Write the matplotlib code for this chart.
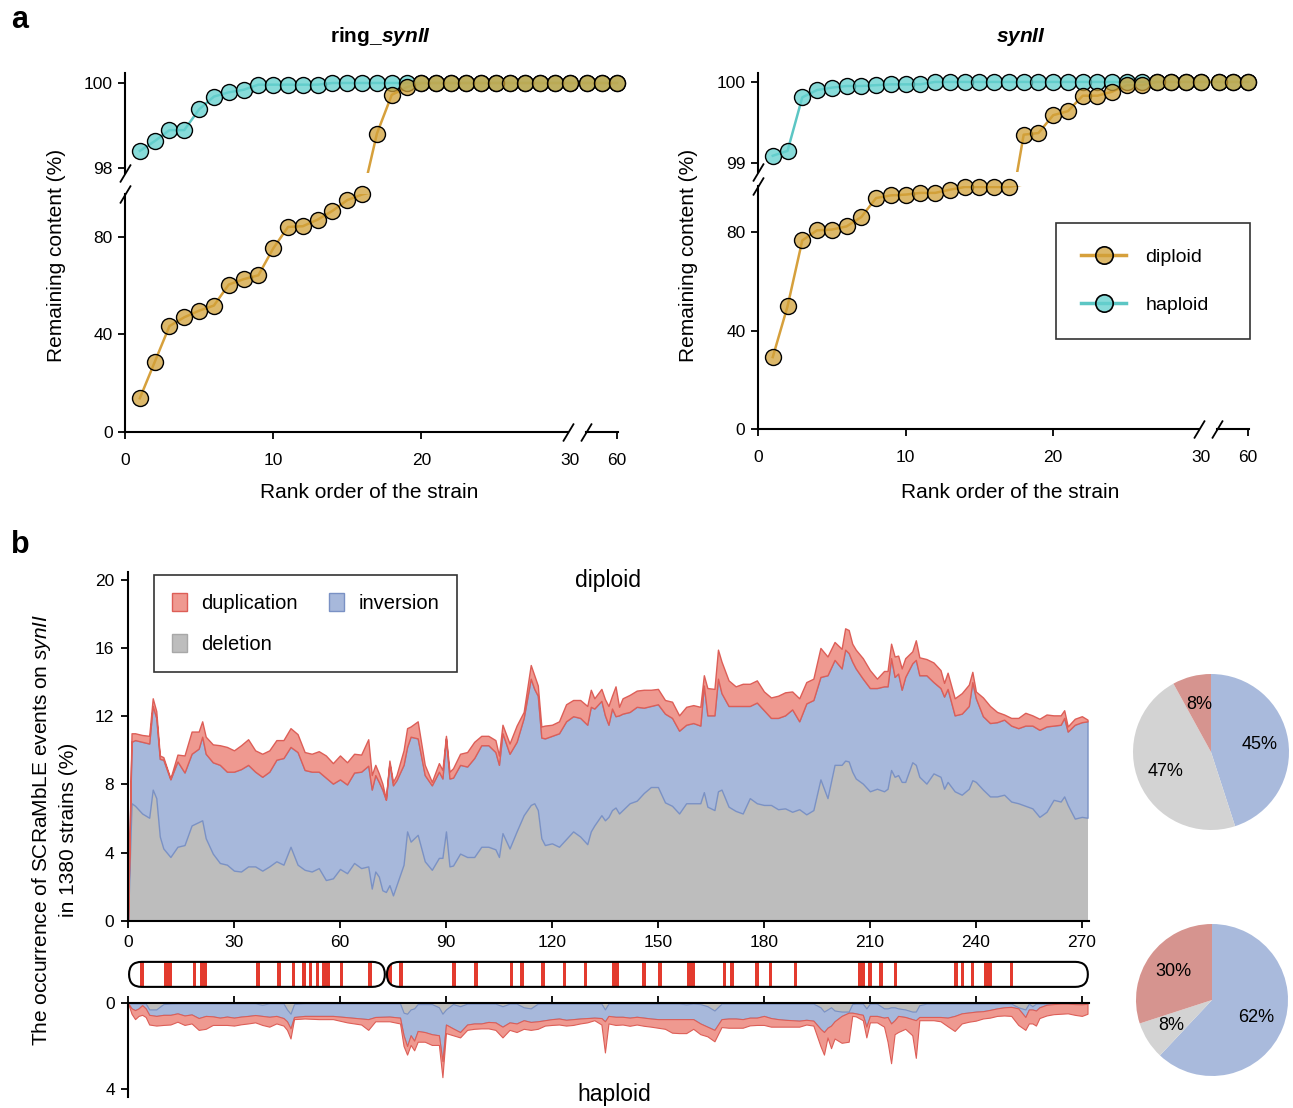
import numpy as np
import matplotlib.pyplot as plt
from matplotlib.patches import FancyBboxPatch, Rectangle, Patch
from matplotlib.lines import Line2D

plt.rcParams['font.family'] = ['Liberation Sans', 'DejaVu Sans']
plt.rcParams['mathtext.fontset'] = 'custom'
plt.rcParams['mathtext.rm'] = 'Liberation Sans'
plt.rcParams['mathtext.it'] = 'Liberation Sans:italic'
plt.rcParams['mathtext.bf'] = 'Liberation Sans:bold:italic'

# ---------------- panel a data (rank order of strains) ----------------
rank = [1, 2, 3, 4, 5, 6, 7, 8, 9, 10, 11, 12, 13, 14, 15, 16, 17, 18, 19, 20,
        21, 22, 23, 24, 25, 26, 27, 28, 29, 30, 58, 59, 60]

ring_diploid = [13.8, 28.6, 43.4, 47.0, 49.7, 51.8, 60.4, 62.6, 64.2, 75.2, 84.0,
                84.3, 87.0, 90.6, 95.0, 97.3, 98.81, 99.72, 99.90, 100, 100, 100,
                100, 100, 100, 100, 100, 100, 100, 100, 100, 100, 100]
ring_haploid = [98.40, 98.63, 98.89, 98.89, 99.38, 99.68, 99.78, 99.84, 99.96, 99.96,
                99.96, 99.96, 99.96, 100, 100, 100, 100, 100, 100, 100, 100, 100,
                100, 100, 100, 100, 100, 100, 100, 100, 100, 100, 100]
syn_diploid = [29.2, 49.8, 76.6, 80.7, 81.0, 82.3, 86.1, 93.8, 94.9, 95.2, 95.9,
               95.9, 97.2, 98.3, 98.3, 98.3, 98.3, 99.35, 99.37, 99.59, 99.64, 99.83,
               99.83, 99.88, 99.96, 99.96, 100, 100, 100, 100, 100, 100, 100]
syn_haploid = [99.09, 99.15, 99.81, 99.90, 99.93, 99.95, 99.95, 99.96, 99.97, 99.97,
               99.97, 100, 100, 100, 100, 100, 100, 100, 100, 100, 100, 100, 100,
               100, 100, 100, 100, 100, 100, 100, 100, 100, 100]

# ---------------- panel b data (stack boundaries, % of 1380 strains) ----------------
dip_pos = [0, 1, 2, 4, 6, 7, 8, 9, 10, 12,
           14, 16, 18, 20, 21, 22, 24, 26, 28, 30,
           32, 34, 36, 38, 40, 42, 44, 46, 48, 50,
           52, 54, 56, 58, 60, 62, 64, 66, 68, 69,
           70, 71, 72, 73, 74, 75, 76, 78, 79, 80,
           82, 84, 86, 88, 89, 90, 91, 92, 94, 96,
           98, 100, 102, 104, 105, 106, 108, 110, 112, 114,
           115, 116, 117, 118, 120, 122, 124, 126, 128, 130,
           131, 132, 134, 135, 136, 137, 138, 139, 140, 142,
           144, 146, 148, 150, 152, 154, 156, 158, 160, 162,
           163, 164, 166, 167, 168, 170, 172, 174, 176, 178,
           180, 182, 184, 186, 188, 190, 192, 194, 196, 198,
           200, 202, 203, 204, 205, 206, 208, 210, 212, 214,
           215, 216, 217, 218, 219, 220, 222, 223, 224, 226,
           228, 230, 231, 232, 234, 236, 238, 239, 240, 242,
           244, 246, 248, 250, 252, 254, 256, 258, 260, 262,
           264, 265, 266, 268, 270, 271.6]
# top of deletion
dip_del = [0, 6.9, 6.75, 6.3, 6.05, 7.7, 7.2, 4.95, 4.25, 3.75,
           4.35, 4.45, 5.6, 5.8, 5.9, 4.85, 3.95, 3.4, 3.3, 2.95,
           2.9, 3.2, 3.2, 2.95, 3.2, 3.5, 3.3, 4.35, 3.3, 3.0,
           2.9, 3.1, 2.4, 2.5, 3.05, 2.8, 3.4, 3.1, 3.2, 1.9,
           2.9, 2.6, 1.8, 1.7, 2.1, 1.5, 2.1, 3.3, 5.25, 4.65,
           5.05, 3.5, 3.0, 3.7, 3.7, 5.25, 3.2, 3.25, 3.95, 3.75,
           3.75, 4.35, 4.35, 4.2, 3.75, 5.15, 4.25, 5.25, 6.2, 6.8,
           6.9, 6.5, 4.85, 4.45, 4.55, 4.35, 4.8, 5.25, 4.95, 4.5,
           5.25, 5.6, 6.2, 5.9, 6.1, 6.5, 6.65, 6.3, 6.5, 6.9,
           7.05, 7.5, 7.85, 7.85, 6.95, 6.75, 6.3, 6.9, 6.9, 6.9,
           7.55, 6.7, 6.5, 7.6, 7.7, 6.7, 6.45, 6.3, 7.2, 6.9,
           6.8, 6.8, 6.55, 6.6, 6.4, 6.55, 6.25, 6.5, 8.3, 7.2,
           9.15, 9.15, 9.4, 9.35, 8.75, 8.35, 8.05, 7.6, 7.75, 7.6,
           7.75, 8.85, 8.45, 8.55, 8.15, 8.15, 9.3, 9.15, 8.45, 8.05,
           8.65, 8.45, 7.75, 8.15, 7.6, 7.4, 7.75, 8.25, 8.15, 7.7,
           7.3, 7.3, 7.4, 7.0, 6.9, 6.75, 6.6, 6.1, 6.4, 7.1,
           7.0, 7.3, 6.8, 6.0, 6.1, 6.05]
# top of deletion + inversion
dip_inv = [0, 10.5, 10.6, 10.5, 10.4, 12.6, 11.9, 9.5, 9.45, 8.3,
           9.35, 8.7, 9.8, 10.1, 10.8, 9.8, 9.3, 9.15, 8.75, 8.75,
           8.9, 9.15, 8.75, 8.45, 8.75, 9.45, 9.55, 10.2, 9.9, 8.85,
           8.75, 8.75, 8.4, 8.05, 8.3, 8.0, 8.7, 8.75, 9.1, 7.7,
           8.55, 8.15, 7.7, 7.1, 9.25, 7.95, 8.25, 9.15, 10.2, 10.8,
           10.7, 8.55, 7.95, 8.75, 8.35, 10.7, 8.35, 8.4, 9.15, 9.05,
           9.55, 10.3, 10.3, 9.9, 9.15, 11.0, 9.8, 10.5, 11.9, 14.2,
           13.6, 13.2, 10.75, 10.7, 10.85, 11.0, 11.7, 12.0, 11.9, 11.5,
           12.55, 12.45, 12.9, 12.05, 11.5, 12.45, 12.0, 12.05, 12.15, 12.25,
           12.55, 12.5, 12.6, 12.7, 12.15, 11.9, 11.15, 11.5, 11.6, 11.45,
           13.8, 12.05, 12.05, 14.2, 13.35, 12.6, 12.6, 12.6, 12.6, 12.8,
           12.35, 11.9, 11.9, 12.05, 12.4, 11.7, 12.75, 12.95, 14.3, 14.4,
           15.3, 14.8, 15.9, 15.7, 15.2, 14.8, 14.2, 13.65, 13.65, 13.75,
           13.75, 15.4, 14.3, 14.5, 13.55, 14.3, 15.1, 15.3, 14.4, 14.4,
           14.0, 13.65, 13.15, 13.6, 12.05, 12.15, 12.6, 14.0, 13.05, 12.0,
           11.6, 11.65, 11.8, 11.45, 11.3, 11.45, 11.45, 11.2, 11.4, 11.45,
           11.5, 11.9, 11.1, 11.5, 11.65, 11.7]
# top of deletion + inversion + duplication
dip_tot = [0, 11.0, 11.0, 10.9, 10.85, 13.05, 12.3, 9.7, 9.6, 8.35,
           9.75, 9.7, 11.1, 11.1, 11.7, 10.8, 10.35, 10.3, 10.2, 10.0,
           10.3, 10.65, 10.0, 9.8, 10.0, 10.6, 10.6, 11.3, 10.95, 9.9,
           9.8, 9.95, 9.7, 9.25, 9.7, 9.3, 9.8, 9.75, 10.65, 8.55,
           9.15, 8.65, 8.05, 7.15, 9.4, 8.15, 8.55, 10.0, 11.3, 11.4,
           11.7, 9.15, 8.15, 9.25, 8.85, 10.85, 8.75, 8.95, 9.8, 9.9,
           10.5, 10.85, 10.85, 10.6, 9.7, 11.5, 10.4, 11.45, 12.25, 15.0,
           14.4, 13.8, 11.4, 11.45, 11.5, 11.7, 12.7, 12.95, 12.95, 12.6,
           13.55, 13.05, 13.6, 13.0, 12.6, 13.2, 13.75, 12.55, 13.05, 13.25,
           13.5, 13.55, 13.55, 13.6, 12.95, 12.85, 12.05, 12.55, 12.65, 12.55,
           14.4, 13.65, 13.6, 15.9, 15.2, 14.1, 13.75, 13.9, 13.9, 14.1,
           13.45, 13.1, 13.2, 13.4, 13.45, 13.05, 14.0, 14.2, 16.0, 15.5,
           16.35, 15.95, 17.15, 17.05, 16.25, 15.9, 15.4, 14.7, 14.2, 14.65,
           14.65, 16.25, 15.5, 15.55, 14.8, 15.4, 15.8, 16.45, 15.45, 15.35,
           15.15, 14.7, 13.95, 14.55, 13.05, 13.35, 13.85, 14.6, 13.45, 13.1,
           12.6, 12.25, 12.1, 11.9, 11.9, 12.2, 12.05, 11.85, 12.1, 12.05,
           12.05, 12.35, 11.4, 11.85, 12.0, 11.8]

hap_pos = [0, 1, 2, 3, 4, 5, 6, 8, 10, 12,
           14, 16, 18, 20, 22, 24, 26, 28, 30, 32,
           34, 36, 38, 40, 42, 44, 45, 46, 47, 50,
           54, 58, 62, 66, 68, 70, 74, 77, 78, 79,
           80, 81, 82, 84, 86, 88, 89, 90, 92, 94,
           96, 98, 100, 102, 104, 106, 108, 110, 112, 114,
           116, 118, 120, 122, 124, 126, 128, 130, 132, 134,
           135, 136, 138, 140, 142, 144, 146, 148, 150, 152,
           154, 156, 158, 160, 162, 164, 166, 168, 170, 172,
           174, 176, 178, 180, 182, 184, 186, 188, 190, 192,
           194, 196, 197, 198, 199, 200, 202, 204, 205, 206,
           208, 209, 210, 212, 214, 215, 216, 217, 218, 220,
           222, 223, 224, 226, 228, 230, 232, 234, 236, 238,
           240, 242, 244, 246, 248, 250, 252, 254, 255, 256,
           257, 258, 260, 262, 264, 266, 268, 270, 271.6]
hap_del = [0, 0.02, 0.02, 0.02, 0.02, 0.02, 0.3, 0.3, 0.05, 0.03,
           0.02, 0.02, 0.02, 0.02, 0.02, 0.02, 0.02, 0.02, 0.02, 0.02,
           0.02, 0.02, 0.08, 0.02, 0.02, 0.02, 0.3, 0.5, 0.05, 0.02,
           0.02, 0.02, 0.02, 0.02, 0.02, 0.02, 0.02, 0.02, 0.45, 0.5,
           0.3, 0.25, 0.05, 0.05, 0.05, 0.2, 0.5, 0.3, 0.05, 0.15,
           0.03, 0.03, 0.03, 0.03, 0.03, 0.15, 0.03, 0.03, 0.2, 0.25,
           0.03, 0.03, 0.03, 0.03, 0.03, 0.03, 0.03, 0.03, 0.03, 0.03,
           0.3, 0.03, 0.03, 0.03, 0.03, 0.03, 0.03, 0.03, 0.03, 0.03,
           0.03, 0.03, 0.06, 0.03, 0.05, 0.15, 0.35, 0.03, 0.03, 0.03,
           0.03, 0.03, 0.03, 0.03, 0.03, 0.03, 0.03, 0.03, 0.03, 0.03,
           0.03, 0.2, 0.4, 0.3, 0.2, 0.35, 0.4, 0.4, 0.05, 0.03,
           0.03, 0.25, 0.03, 0.03, 0.25, 0.25, 0.2, 0.2, 0.25, 0.3,
           0.4, 0.4, 0.1, 0.03, 0.03, 0.03, 0.03, 0.03, 0.03, 0.03,
           0.03, 0.03, 0.03, 0.03, 0.03, 0.03, 0.2, 0.3, 0.03, 0.15,
           0.03, 0.03, 0.03, 0.02, 0.02, 0.02, 0.02, 0.02, 0.02]
hap_inv = [0, 0.25, 0.33, 0.25, 0.1, 0.25, 0.55, 0.6, 0.55, 0.55,
           0.48, 0.58, 0.53, 0.7, 0.6, 0.62, 0.68, 0.63, 0.68, 0.63,
           0.6, 0.56, 0.6, 0.64, 0.6, 0.7, 0.85, 1.18, 0.65, 0.6,
           0.6, 0.6, 0.66, 0.72, 0.75, 0.65, 0.63, 0.68, 1.5, 2.0,
           1.5, 1.75, 1.3, 1.35, 1.45, 1.5, 2.7, 1.0, 1.18, 1.35,
           1.0, 0.95, 0.95, 0.88, 0.9, 1.1, 0.9, 0.95, 0.8, 0.88,
           0.85, 0.8, 0.75, 0.72, 0.78, 0.75, 0.72, 0.7, 0.68, 0.7,
           0.85, 0.6, 0.64, 0.64, 0.68, 0.64, 0.68, 0.72, 0.75, 0.75,
           0.75, 0.75, 0.75, 0.75, 0.95, 1.1, 1.25, 0.75, 0.72, 0.72,
           0.75, 0.68, 0.68, 0.6, 0.7, 0.75, 0.78, 0.8, 0.82, 0.78,
           0.82, 1.2, 1.35, 1.15, 1.05, 0.85, 0.6, 0.45, 0.45, 0.48,
           0.55, 1.1, 0.6, 0.6, 0.68, 0.65, 0.95, 0.8, 0.6, 0.65,
           0.75, 0.8, 0.65, 0.65, 0.65, 0.65, 0.68, 0.6, 0.48, 0.44,
           0.4, 0.38, 0.32, 0.25, 0.2, 0.18, 0.25, 0.65, 0.3, 0.3,
           0.35, 0.2, 0.08, 0.05, 0.03, 0.03, 0.05, 0.06, 0.03]
hap_tot = [0, 0.5, 0.75, 0.6, 0.55, 0.65, 1.0, 1.05, 1.02, 1.0,
           0.87, 1.02, 0.95, 1.25, 1.2, 1.02, 1.02, 1.02, 1.05, 0.99,
           0.95, 0.9, 1.02, 1.1, 0.95, 1.05, 1.25, 1.65, 0.75, 0.72,
           0.75, 0.75, 0.9, 1.0, 1.25, 0.85, 0.85, 0.95, 2.0, 2.4,
           1.95, 2.2, 1.8, 1.8, 1.95, 1.95, 3.45, 1.4, 1.5, 1.6,
           1.25, 1.2, 1.18, 1.18, 1.25, 1.6, 1.25, 1.35, 1.2, 1.25,
           1.2, 1.05, 1.02, 1.0, 1.05, 1.02, 0.95, 0.9, 0.8, 1.0,
           2.3, 0.95, 1.02, 1.0, 1.06, 1.0, 1.06, 1.1, 1.15, 1.2,
           1.38, 1.4, 1.4, 1.2, 1.45, 1.55, 1.78, 1.12, 1.15, 1.15,
           1.15, 1.04, 1.02, 1.02, 1.1, 1.1, 1.1, 1.1, 1.1, 1.0,
           1.05, 2.0, 2.4, 1.6, 2.1, 1.65, 1.85, 1.8, 0.6, 0.62,
           0.8, 1.6, 0.9, 0.9, 1.1, 1.8, 2.8, 1.45, 1.35, 1.2,
           1.5, 2.55, 0.8, 0.8, 0.8, 0.85, 1.08, 1.3, 0.95, 0.87,
           0.82, 0.72, 0.68, 0.6, 0.58, 0.6, 1.02, 1.25, 0.95, 0.95,
           1.05, 0.7, 0.58, 0.52, 0.5, 0.48, 0.55, 0.6, 0.5]

# loxPsym sites along synII (kb start, kb end), centromere position
lox_bands = [(3.3, 4.5), (10.2, 12.4), (18.3, 19.3), (20.3, 22.5), (36.3, 37.5),
             (42.3, 43.3), (46.3, 47.3), (49.3, 50.3), (51.3, 52.2), (53.2, 54.2),
             (54.9, 57.1), (60.0, 61.0), (68.0, 69.0), (73.6, 74.6), (76.8, 77.8),
             (91.8, 92.8), (98.0, 99.0), (108.0, 109.0), (111.0, 112.0),
             (117.0, 118.0), (123.0, 124.0), (129.0, 130.0), (137.0, 139.0),
             (145.5, 146.5), (150.1, 151.1), (158.2, 160.4), (168.4, 169.4),
             (170.5, 171.5), (177.6, 178.5), (181.5, 182.4), (188.5, 189.5),
             (206.6, 208.5), (209.6, 210.6), (212.7, 213.7), (216.7, 217.7),
             (233.9, 234.9), (235.7, 236.7), (238.5, 239.5), (242.4, 244.6),
             (249.6, 250.6)]
centromere = 73.0
chrom_len = 271.7

pie_diploid = [45, 47, 8]   # inversion, deletion, duplication
pie_haploid = [62, 8, 30]

# ---------------- style ----------------
gold_line = '#D6A03C'
gold_face = (0.82, 0.63, 0.22, 0.75)
cyan_line = '#5CC6C4'
cyan_face = (0.40, 0.82, 0.81, 0.78)
c_del, c_del_e = '#BDBDBD', '#A5A5A5'
c_inv, c_inv_e = '#A7B8DB', '#7A91C4'
c_dup, c_dup_e = '#EF9990', '#DD5E57'
pie_cols = ['#A9BADC', '#D3D3D3', '#D6948F']

W, H = 1293, 1108
fig = plt.figure(figsize=(W / 100, H / 100), dpi=100)


def px_axes(x0, y0, x1, y1):
    return fig.add_axes([x0 / W, 1 - y1 / H, (x1 - x0) / W, (y1 - y0) / H])


def xb(v):
    # broken x axis: ranks 58-60 are pulled next to rank 30
    v = np.asarray(v, dtype=float)
    return np.where(v > 40, v - 26.8, v)


slash = dict(marker=[(-0.6, -1), (0.6, 1)], markersize=13, linestyle='none',
             color='k', mec='k', mew=1.3, clip_on=False)


def rank_panel(left, right, top, brk_hi, brk_lo, bottom, up_lim, lo_lim, up_ticks,
               diploid, haploid):
    ax_up = px_axes(left, top, right, brk_hi)
    ax_lo = px_axes(left, brk_lo, right, bottom)
    xr = xb(rank)
    for ax, lim in ((ax_up, up_lim), (ax_lo, lo_lim)):
        ax.set_xlim(0, 33.4)
        ax.set_ylim(*lim)
        for s in ('top', 'right', 'bottom'):
            ax.spines[s].set_visible(False)
        ax.spines['left'].set_linewidth(1.5)
        ax.patch.set_visible(False)
        ax.tick_params(axis='y', direction='out', length=5, width=1.3, labelsize=12.5, pad=4)
        series = ((haploid, cyan_line, cyan_face, 3), (diploid, gold_line, gold_face, 4))
        for vals, lc, fc, z in series:
            vals = np.asarray(vals, dtype=float)
            ins = (vals >= lim[0]) & (vals <= lim[1])
            # keep segments that touch this part of the broken axis
            keep = ins | np.r_[ins[1:], False] | np.r_[False, ins[:-1]]
            ax.plot(xr, np.where(keep, vals, np.nan), color=lc, lw=1.8, zorder=2)
        for vals, lc, fc, z in series:
            vals = np.asarray(vals, dtype=float)
            ins = (vals >= lim[0]) & (vals <= lim[1])
            ax.plot(xr[ins], vals[ins], 'o', ms=11.5, mfc=fc, mec='k', mew=1.0,
                    clip_on=False, zorder=z)
    ax_up.set_yticks(up_ticks)
    ax_up.tick_params(axis='x', bottom=False, labelbottom=False)
    ax_lo.set_yticks([0, 40, 80])
    ax_lo.set_xticks(xb([0, 10, 20, 60]), ['0', '10', '20', '60'])
    ax_lo.set_xticks([30], ['30'], minor=True)
    ax_lo.tick_params(axis='x', which='major', direction='out', length=5, width=1.3,
                      labelsize=12.5, pad=10)
    ax_lo.tick_params(axis='x', which='minor', length=0, labelsize=12.5, pad=15)
    tr = ax_lo.get_xaxis_transform()
    ax_lo.plot([0, 29.9], [0, 0], color='k', lw=1.5, transform=tr, clip_on=False)
    ax_lo.plot([31.1, 33.25], [0, 0], color='k', lw=1.5, transform=tr, clip_on=False)
    ax_lo.plot([29.9, 31.1], [0, 0], transform=tr, **slash)
    ax_up.plot([0], [0], transform=ax_up.transAxes, **slash)
    ax_lo.plot([0], [1], transform=ax_lo.transAxes, **slash)
    return ax_up, ax_lo


# panel a, left: ring_synII
rank_panel(125, 620, 73, 173, 194, 432, (97.88, 100.235), (0, 97.5), [98, 100],
           ring_diploid, ring_haploid)
fig.text(380 / W, 1 - 37 / H, r'ring_$\mathbf{synII}$', ha='center', va='center',
         fontsize=15, fontweight='bold')
fig.text(369 / W, 1 - 493 / H, 'Rank order of the strain', ha='center', va='center',
         fontsize=15)
fig.text(57 / W, 1 - 255 / H, 'Remaining content (%)', ha='center', va='center',
         rotation=90, fontsize=15)

# panel a, right: synII
rank_panel(758, 1251, 73, 172, 186, 429, (98.89, 100.11), (0, 98.7), [99, 100],
           syn_diploid, syn_haploid)
fig.text(1021 / W, 1 - 37 / H, r'$\mathbf{synII}$', ha='center', va='center',
         fontsize=15, fontweight='bold')
fig.text(1010 / W, 1 - 493 / H, 'Rank order of the strain', ha='center', va='center',
         fontsize=15)
fig.text(688 / W, 1 - 255 / H, 'Remaining content (%)', ha='center', va='center',
         rotation=90, fontsize=15)
leg_handles = [Line2D([], [], color=gold_line, lw=2.5, marker='o', ms=12.5,
                      mfc=gold_face, mec='k', mew=1.2),
               Line2D([], [], color=cyan_line, lw=2.5, marker='o', ms=12.5,
                      mfc=cyan_face, mec='k', mew=1.2)]
leg = fig.legend(leg_handles, ['diploid', 'haploid'], loc='upper left',
                 bbox_to_anchor=(1056 / W, 1 - 340 / H, 194 / W, 117 / H),
                 mode='expand', fontsize=14, frameon=True, fancybox=False,
                 edgecolor='k', borderpad=1.3, labelspacing=1.55, handlelength=2.3,
                 handletextpad=1.0, borderaxespad=0)
leg.get_frame().set_linewidth(1.2)

fig.text(20 / W, 1 - 20 / H, 'a', fontsize=22, fontweight='bold', ha='center', va='center')
fig.text(20 / W, 1 - 545 / H, 'b', fontsize=22, fontweight='bold', ha='center', va='center')

# ---------------- panel b ----------------
x_right = 128 + chrom_len * 3.533 + 1
ax_d = px_axes(128, 572, x_right, 921)
ax_d.fill_between(dip_pos, 0, dip_del, color=c_del, lw=0)
ax_d.fill_between(dip_pos, dip_del, dip_inv, facecolor=c_inv, edgecolor=c_inv_e, lw=1.0)
ax_d.fill_between(dip_pos, dip_inv, dip_tot, facecolor=c_dup, edgecolor=c_dup_e, lw=1.0)
ax_d.set_xlim(0, chrom_len + 0.3)
ax_d.set_ylim(0, 20.45)
ax_d.set_xticks(np.arange(0, 271, 30))
ax_d.set_yticks([0, 4, 8, 12, 16, 20])
for s in ('top', 'right'):
    ax_d.spines[s].set_visible(False)
for s in ('left', 'bottom'):
    ax_d.spines[s].set_linewidth(1.5)
ax_d.tick_params(direction='out', length=5, width=1.3, labelsize=12.5, pad=5)
ax_d.patch.set_visible(False)
fig.text(608 / W, 1 - 580 / H, 'diploid', ha='center', va='center', fontsize=16.5)
leg_b = ax_d.legend([Patch(facecolor=c_dup, edgecolor=c_dup_e),
                     Patch(facecolor=c_del, edgecolor='#A8A8A8'),
                     Patch(facecolor=c_inv, edgecolor=c_inv_e)],
                    ['duplication', 'deletion', 'inversion'], ncol=2,
                    loc='upper left', bbox_to_anchor=(154 / W, 1 - 575 / H),
                    bbox_transform=fig.transFigure, borderaxespad=0, fontsize=14.5,
                    frameon=True, fancybox=False, edgecolor='k', borderpad=0.9,
                    labelspacing=1.05, handlelength=0.75, handleheight=1.0,
                    handletextpad=0.7, columnspacing=1.55)
leg_b.get_frame().set_linewidth(1.2)

# chromosome cartoon
ax_c = px_axes(128, 956, x_right, 989)
ax_c.set_xlim(0, chrom_len + 0.3)
ax_c.set_ylim(0, 33 / 3.533)
ax_c.axis('off')
y0, hh = 0.6, 25 / 3.533
arms = [(0.3, centromere - 0.3), (centromere + 0.3, chrom_len)]
arm_patches = []
for a0, a1 in arms:
    p = FancyBboxPatch((a0, y0), a1 - a0, hh,
                       boxstyle='round,pad=0,rounding_size=%.3f' % (hh / 2),
                       facecolor='white', edgecolor='none', zorder=1)
    ax_c.add_patch(p)
    arm_patches.append(p)
for b0, b1 in lox_bands:
    r = Rectangle((b0, y0), b1 - b0, hh, facecolor='#E33B2E', edgecolor='none', zorder=2)
    ax_c.add_patch(r)
    r.set_clip_path(arm_patches[0] if b1 <= centromere else arm_patches[1])
for a0, a1 in arms:
    ax_c.add_patch(FancyBboxPatch((a0, y0), a1 - a0, hh,
                                  boxstyle='round,pad=0,rounding_size=%.3f' % (hh / 2),
                                  facecolor='none', edgecolor='k', lw=1.5, zorder=3))

# haploid (drawn downward)
ax_h = px_axes(128, 1003, x_right, 1097)
ax_h.fill_between(hap_pos, 0, hap_del, facecolor=c_del, edgecolor=c_del_e, lw=0.6)
ax_h.fill_between(hap_pos, hap_del, hap_inv, facecolor=c_inv, edgecolor=c_inv_e, lw=0.8)
ax_h.fill_between(hap_pos, hap_inv, hap_tot, facecolor=c_dup, edgecolor=c_dup_e, lw=0.8)
ax_h.set_xlim(0, chrom_len + 0.3)
ax_h.set_ylim(4.37, 0)
ax_h.set_xticks(np.arange(0, 271, 30))
ax_h.set_yticks([0, 4])
ax_h.xaxis.tick_top()
ax_h.tick_params(axis='x', labeltop=False, direction='out', length=5, width=1.3)
ax_h.tick_params(axis='y', direction='out', length=5, width=1.3, labelsize=12.5, pad=4)
for s in ('bottom', 'right'):
    ax_h.spines[s].set_visible(False)
for s in ('left', 'top'):
    ax_h.spines[s].set_linewidth(1.5)
ax_h.patch.set_visible(False)
fig.text(614 / W, 1 - 1095 / H, 'haploid', ha='center', va='center', fontsize=16.5)

fig.text(54 / W, 1 - 830 / H,
         'The occurrence of SCRaMbLE events on $\\mathit{synII}$\nin 1380 strains (%)',
         ha='center', va='center', rotation=90, fontsize=15, linespacing=1.45,
         multialignment='center')

# pies
for vals, cx, cy, rr in ((pie_diploid, 1211, 752, 78), (pie_haploid, 1212, 1000, 76)):
    ax_p = px_axes(cx - rr, cy - rr, cx + rr, cy + rr)
    ax_p.pie(vals, colors=pie_cols, startangle=90, counterclock=False,
             autopct='%d%%', pctdistance=0.63, textprops=dict(fontsize=13))
    ax_p.set_xlim(-1, 1)
    ax_p.set_ylim(-1, 1)
    ax_p.set_aspect('auto')

fig.savefig('out.png', dpi=100)
